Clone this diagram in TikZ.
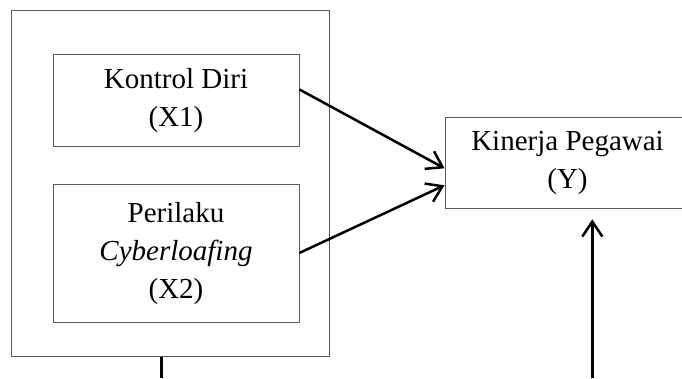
\documentclass[tikz,border=0pt]{standalone}
\usepackage{fontspec}
\setmainfont{Liberation Serif}
\usetikzlibrary{arrows.meta}
\begin{document}
\begin{tikzpicture}[x=1pt,y=-1pt,
		kotak/.style={draw=black!65,line width=1pt,align=center,inner sep=0pt,
			font=\fontsize{29}{38}\selectfont},
		panah/.style={line width=2.5pt,-{Straight Barb[length=15pt,width=20pt]}}]
	\useasboundingbox (0,0) rectangle (682,378);
	% kotak luar (X1 dan X2)
	\node[kotak,minimum width=318pt,minimum height=346pt] (luar) at (170,183.7) {};
	\node[kotak,minimum width=246pt,minimum height=92pt] (kontrol) at (176,100.5) {Kontrol Diri\\(X1)};
	\node[kotak,minimum width=246pt,minimum height=138pt] (cyber) at (176,253.9) {Perilaku\\\textit{Cyberloafing}\\(X2)};
	\node[kotak,minimum width=245pt,minimum height=91pt] (kinerja) at (567.5,162.7) {Kinerja Pegawai\\(Y)};
	\coordinate (bawahkiri) at (161.3,378);
	\coordinate (bawahkanan) at (592.3,378);
	\coordinate (ujung) at (592.3,219.3);
	\draw[panah] ([yshift=11pt]kontrol.east) -- ([yshift=-5.6pt]kinerja.west);
	\draw[panah] ([yshift=1pt]cyber.east) -- ([yshift=-22.6pt]kinerja.west);
	\draw[panah] (bawahkanan) -- (ujung);
	\draw[line width=2.5pt] (luar.south -| bawahkiri) -- (bawahkiri);
\end{tikzpicture}
\end{document}
